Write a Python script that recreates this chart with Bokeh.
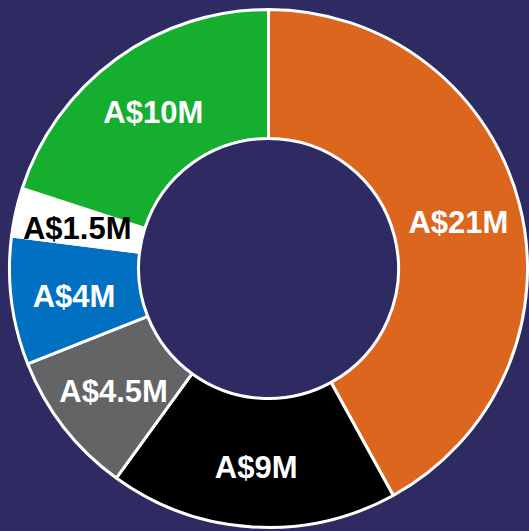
import math
from bokeh.plotting import figure
from bokeh.models import ColumnDataSource, Range1d
from bokeh.embed import file_html
from bokeh.resources import INLINE

labels = ["A$21M", "A$9M", "A$4.5M", "A$4M", "A$1.5M", "A$10M"]
values = [21, 9, 4.5, 4, 1.5, 10]
colors = ["#dd661e", "#000000", "#626466", "#0170c1", "#ffffff", "#16ae2e"]
text_colors = ["#ffffff", "#ffffff", "#ffffff", "#ffffff", "#000000", "#ffffff"]
BG = "#2d2b62"

total = sum(values)
starts, ends, mids = [], [], []
cum = 0.0
for v in values:
    a0 = math.pi / 2 - cum / total * 2 * math.pi
    cum += v
    a1 = math.pi / 2 - cum / total * 2 * math.pi
    starts.append(a0)
    ends.append(a1)
    mids.append((a0 + a1) / 2)

r_in, r_out = 130, 259
r_lab = 196
lx = [r_lab * math.cos(m) for m in mids]
ly = [r_lab * math.sin(m) - 3 for m in mids]

src = ColumnDataSource(dict(start=starts, end=ends, color=colors, label=labels,
                            tc=text_colors, lx=lx, ly=ly))

W, H = 529, 531
CX, CY = 268, 268
p = figure(width=W, height=H, output_backend="svg", toolbar_location=None,
           x_range=Range1d(-CX, W - CX), y_range=Range1d(-(H - CY), CY),
           min_border=0, background_fill_color=BG, border_fill_color=BG,
           outline_line_color=None)
p.axis.visible = False
p.grid.visible = False

p.annular_wedge(x=0, y=0, inner_radius=r_in, outer_radius=r_out,
                start_angle="start", end_angle="end", direction="clock",
                fill_color="color", line_color="white", line_width=3, source=src)

p.text(x="lx", y="ly", text="label", text_color="tc", source=src,
       text_align="center", text_baseline="middle",
       text_font_size="31px", text_font_style="bold",
       text_font={"value": "Liberation Sans"})

html = file_html(p, INLINE)
html = html.replace("<body>", '<body style="background:%s">' % BG)
open("out.html", "w").write(html)
